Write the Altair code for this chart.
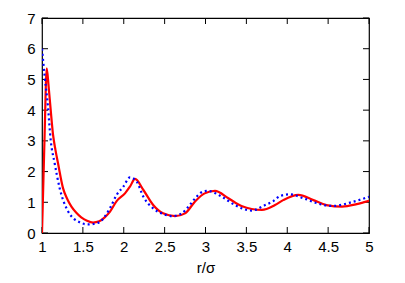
import altair as alt
import pandas as pd

# red solid curve
red_r = [1.0, 1.03, 1.058, 1.08, 1.105, 1.135, 1.165, 1.196, 1.257, 1.31, 1.36, 1.42, 1.48,
         1.55, 1.624, 1.70, 1.767, 1.83, 1.913, 2.015, 2.076, 2.138, 2.24, 2.36, 2.48,
         2.627, 2.75, 2.87, 2.99, 3.116, 3.28, 3.44, 3.69, 3.85, 3.95, 4.135, 4.32, 4.48,
         4.67, 4.85, 5.0]
red_g = [0.0, 3.0, 5.36, 4.8, 4.05, 3.2, 2.7, 2.27, 1.46, 1.1, 0.86, 0.66, 0.51,
         0.40, 0.34, 0.38, 0.51, 0.69, 1.04, 1.29, 1.51, 1.76, 1.40, 0.91, 0.64,
         0.55, 0.64, 1.02, 1.29, 1.37, 1.13, 0.88, 0.75, 0.91, 1.07, 1.24, 1.07, 0.91,
         0.86, 0.94, 1.05]

# blue dotted curve
blue_r = [1.0, 1.033, 1.073, 1.106, 1.155, 1.216, 1.318, 1.46, 1.563, 1.685, 1.83, 1.913,
          1.995, 2.076, 2.158, 2.24, 2.36, 2.48, 2.587, 2.71, 2.81, 2.88, 2.97, 3.03, 3.2,
          3.36, 3.565, 3.73, 3.83, 3.91, 4.03, 4.2, 4.36, 4.56, 4.77, 5.0]
blue_g = [6.0, 5.09, 4.11, 3.03, 2.27, 1.46, 0.71, 0.35, 0.28, 0.33, 0.8, 1.24,
          1.51, 1.81, 1.67, 1.18, 0.80, 0.62, 0.55, 0.64, 0.92, 1.15, 1.35, 1.37, 1.18,
          0.91, 0.73, 0.91, 1.04, 1.2, 1.26, 1.13, 0.97, 0.88, 0.99, 1.18]

x_ticks = [1, 1.5, 2, 2.5, 3, 3.5, 4, 4.5, 5]
y_ticks = [0, 1, 2, 3, 4, 5, 6, 7]

W, H = 327, 215
FONT = "Liberation Sans"
FS = 15

red_df = pd.DataFrame({"r": red_r, "g": red_g})
blue_df = pd.DataFrame({"r": blue_r, "g": blue_g})
xt = pd.DataFrame({"r": x_ticks})
yt = pd.DataFrame({"g": y_ticks})

xscale = alt.Scale(domain=[1, 5], nice=False, zero=False)
yscale = alt.Scale(domain=[0, 7], nice=False)

common = dict(ticks=False, domain=False, grid=False, labelFontSize=FS, labelFont=FONT,
              labelColor="black", labelOverlap=False, labelFlush=False, format="~g")
xaxis = alt.Axis(values=x_ticks, title="r/σ", titlePadding=6, labelPadding=6,
                 titleFont=FONT, titleFontSize=FS, titleFontWeight="normal",
                 titleColor="black", **common)
yaxis = alt.Axis(values=y_ticks, title=None, labelPadding=7, **common)

X = alt.X("r:Q", scale=xscale, axis=xaxis)
Y = alt.Y("g:Q", scale=yscale, axis=yaxis)

blue = alt.Chart(blue_df).mark_line(color="#0000ff", strokeWidth=2.2, strokeDash=[2, 3],
                                    interpolate="monotone", clip=True).encode(x=X, y=Y)
red = alt.Chart(red_df).mark_line(color="#ff0000", strokeWidth=2.2,
                                  interpolate="monotone", clip=True).encode(x=X, y=Y)

tick_len = 6
bt = alt.Chart(xt).mark_rule(color="black", strokeWidth=1).encode(
    x=X, y=alt.value(H), y2=alt.value(H - tick_len))
tt = alt.Chart(xt).mark_rule(color="black", strokeWidth=1).encode(
    x=X, y=alt.value(0), y2=alt.value(tick_len))
lt = alt.Chart(yt).mark_rule(color="black", strokeWidth=1).encode(
    y=Y, x=alt.value(0), x2=alt.value(tick_len))
rt = alt.Chart(yt).mark_rule(color="black", strokeWidth=1).encode(
    y=Y, x=alt.value(W), x2=alt.value(W - tick_len))

chart = alt.layer(bt, tt, lt, rt, red, blue).properties(
    width=W, height=H,
    autosize=alt.AutoSizeParams(type="none"),
    padding={"left": 34, "top": 10, "right": 28, "bottom": 42},
).configure_view(stroke="black", strokeWidth=1.2)

chart.save("out.html", embed_options={"renderer": "svg", "actions": False})
